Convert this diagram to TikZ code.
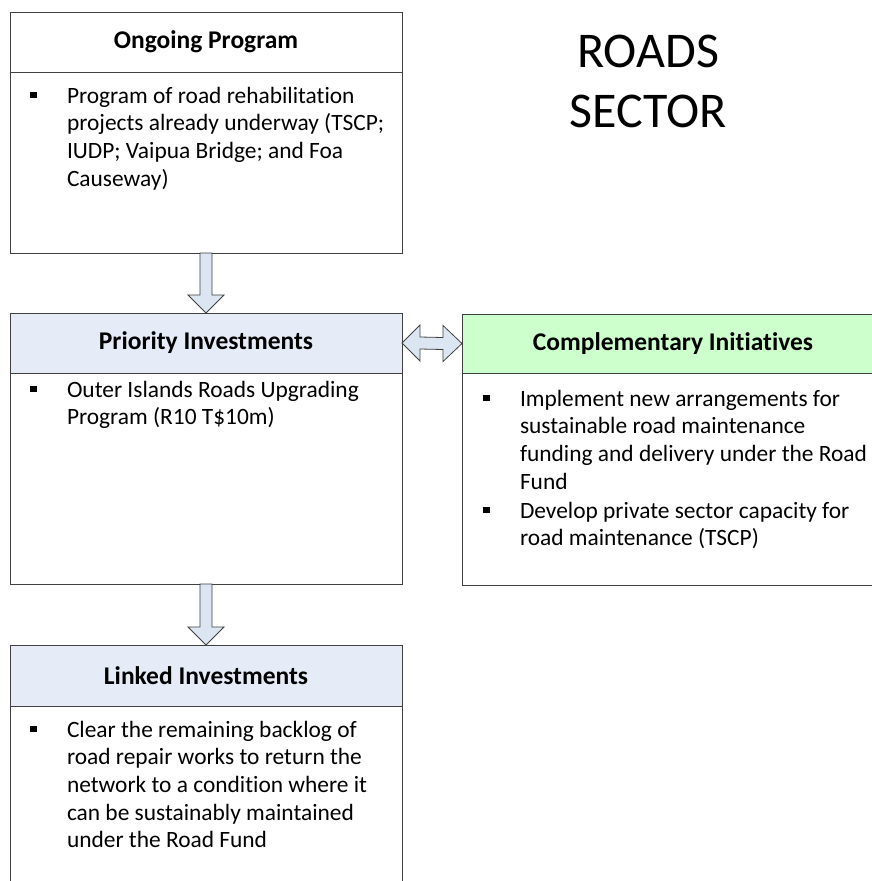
\documentclass[tikz,border=0pt]{standalone}
\usepackage{fontspec}
\setmainfont[Ligatures={NoCommon,NoContextual},RawFeature={-liga;-clig;-calt;-ccmp}]{Carlito}
\usetikzlibrary{calc}
\definecolor{ln}{HTML}{404040}
\definecolor{hblue}{HTML}{E6ECF7}
\definecolor{hgreen}{HTML}{CCFFCC}
\definecolor{ablue}{HTML}{DCE6F2}
\tikzset{
  box/.style={draw=ln, line width=1pt, rectangle, inner sep=0pt, outer sep=0pt, anchor=north west, minimum width=392pt},
  hdr/.style={box, font=\fontsize{25.5}{30}\selectfont\bfseries},
  txt/.style={anchor=base west, inner sep=0pt, outer sep=0pt, align=left, font=\fontsize{23.4}{27.7}\selectfont},
  bul/.style={fill=black, minimum size=6.5pt, inner sep=0pt, outer sep=0pt, rectangle},
  arr/.style={draw=ln, line width=0.8pt, fill=ablue, line join=miter},
  ttl/.style={anchor=base, inner sep=0pt, font=\fontsize{50}{60}\selectfont},
}
\begin{document}
\begin{tikzpicture}[x=1pt,y=-1pt]
\useasboundingbox (0,0) rectangle (872,881);
\clip (0,0) rectangle (872,881);
\fill[white] (0,0) rectangle (872,881);
% title
\node[ttl] (t1) at (648,67) {ROADS};
\node[ttl] (t2) at (648,127) {SECTOR};
% Ongoing program
\node[hdr, fill=white, minimum height=60pt] (ongH) at (10,12) {Ongoing Program};
\node[box, minimum height=181pt] (ongB) at (10,72) {};
\node[bul] (ob1) at (33.5,95) {};
\node[txt] (ot1) at (67,186.1) {Program of road rehabilitation\\projects already underway (TSCP;\\IUDP; Vaipua Bridge; and Foa\\Causeway)};
% Priority investments
\node[hdr, fill=hblue, minimum height=60pt] (priH) at (10,313) {Priority Investments};
\node[box, minimum height=211pt] (priB) at (10,373) {};
\node[bul] (pb1) at (33.5,389) {};
\node[txt] (pt1) at (67,424.7) {Outer Islands Roads Upgrading\\Program (R10 T\$10m)};
% Linked investments
\node[hdr, fill=hblue, minimum height=61pt] (linH) at (10,645) {Linked Investments};
\node[box, minimum height=200pt] (linB) at (10,706) {};
\node[bul] (lb1) at (33.5,729) {};
\node[txt] (lt1) at (67,847.8) {Clear the remaining backlog of\\road repair works to return the\\network to a condition where it\\can be sustainably maintained\\under the Road Fund};
% Complementary initiatives
\node[hdr, fill=hgreen, minimum height=59pt, minimum width=422pt] (comH) at (462,314) {Complementary Initiatives};
\node[box, minimum height=212pt, minimum width=422pt] (comB) at (462,373) {};
\node[bul] (cb1) at (486.5,398) {};
\node[txt] (ct1) at (520,489.1) {Implement new arrangements for\\sustainable road maintenance\\funding and delivery under the Road\\Fund};
\node[bul] (cb2) at (486.5,510) {};
\node[txt] (ct2) at (520,545.7) {Develop private sector capacity for\\road maintenance (TSCP)};
% arrows
\draw[arr] ($(ongB.south)+(-6,0)$) -- ($(ongB.south)+(6,0)$) -- ($(priH.north)+(6,-18)$) -- ($(priH.north)+(18,-18)$) -- (priH.north) -- ($(priH.north)+(-18,-18)$) -- ($(priH.north)+(-6,-18)$) -- cycle;
\draw[arr] ($(priB.south)+(-6,0)$) -- ($(priB.south)+(6,0)$) -- ($(linH.north)+(6,-18)$) -- ($(linH.north)+(18,-18)$) -- (linH.north) -- ($(linH.north)+(-18,-18)$) -- ($(linH.north)+(-6,-18)$) -- cycle;
\draw[arr] (priH.east) -- ($(priH.east)+(18,-18)$) -- ($(priH.east)+(18,-6)$) -- ($(comH.west)+(-19,-6)$) -- ($(comH.west)+(-19,-18)$) -- (comH.west) -- ($(comH.west)+(-19,18)$) -- ($(comH.west)+(-19,6)$) -- ($(priH.east)+(18,6)$) -- ($(priH.east)+(18,18)$) -- cycle;
\end{tikzpicture}
\end{document}
